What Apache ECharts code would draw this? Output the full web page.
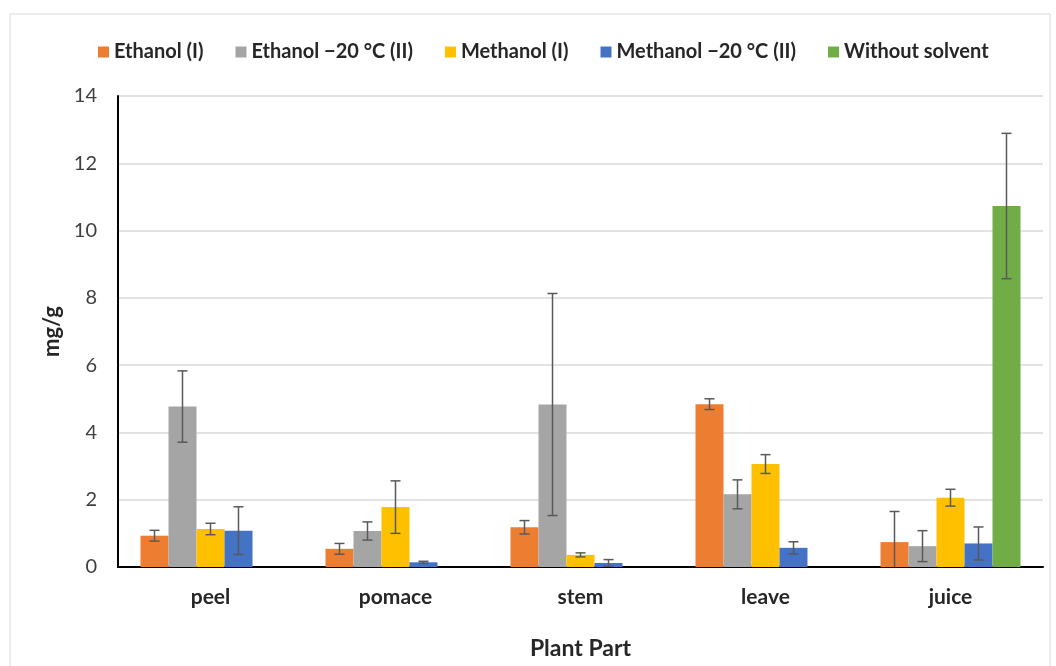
<!DOCTYPE html>
<html><head><meta charset="utf-8">
<script src="https://cdn.jsdelivr.net/npm/echarts@6/dist/echarts.min.js"></script>
<style>html,body{margin:0;padding:0;background:#fff}#c{width:1056px;height:666px}</style>
</head><body><div id="c"></div>
<script>
const categories = ['peel', 'pomace', 'stem', 'leave', 'juice'];
const seriesNames = ['Ethanol (I)', 'Ethanol \u221220 \u00B0C (II)', 'Methanol (I)', 'Methanol \u221220 \u00B0C (II)', 'Without solvent'];
const ethanolI = [0.93, 0.54, 1.18, 4.84, 0.74];
const ethanolII = [4.77, 1.07, 4.83, 2.16, 0.62];
const methanolI = [1.13, 1.78, 0.36, 3.06, 2.06];
const methanolII = [1.08, 0.14, 0.12, 0.57, 0.70];
const withoutSolvent = [null, null, null, null, 10.73];
const errEthanolI = [0.16, 0.16, 0.20, 0.16, 0.91];
const errEthanolII = [1.06, 0.27, 3.30, 0.43, 0.46];
const errMethanolI = [0.17, 0.78, 0.06, 0.28, 0.25];
const errMethanolII = [0.71, 0.03, 0.10, 0.18, 0.49];
const errWithout = [null, null, null, null, 2.16];
const yTicks = [0, 2, 4, 6, 8, 10, 12, 14];

const colors = ['#ED7D31', '#A5A5A5', '#FFC000', '#4472C4', '#70AD47'];
const values = [ethanolI, ethanolII, methanolI, methanolII, withoutSolvent];
const errs = [errEthanolI, errEthanolII, errMethanolI, errMethanolII, errWithout];
const BW = 28;
const font = 'Lato, "Open Sans", sans-serif';

const chart = echarts.init(document.getElementById('c'));
const series = [];
values.forEach((v, i) => {
  series.push({
    name: seriesNames[i], type: 'bar', data: v, barWidth: BW, barGap: '0%',
    itemStyle: { color: colors[i] }
  });
});
values.forEach((v, i) => {
  const data = v.map((val, k) => val == null ? null : [k, val, errs[i][k]]).filter(d => d);
  series.push({
    type: 'custom', name: seriesNames[i] + ' err', silent: true, z: 5,
    data: data,
    encode: { x: 0, y: 1 },
    renderItem: function (params, api) {
      const k = api.value(0), val = api.value(1), e = api.value(2);
      const lo = Math.max(0, val - e), hi = val + e;
      const pHi = api.coord([k, hi]);
      const pLo = api.coord([k, lo]);
      const x = pHi[0] + (i - 2) * BW;
      const cap = 5;
      const style = { stroke: '#595959', lineWidth: 1.5 };
      const children = [
        { type: 'line', shape: { x1: x, y1: pHi[1], x2: x, y2: pLo[1] }, style: style },
        { type: 'line', shape: { x1: x - cap, y1: pHi[1], x2: x + cap, y2: pHi[1] }, style: style }
      ];
      if (val - e >= 0) children.push({ type: 'line', shape: { x1: x - cap, y1: pLo[1], x2: x + cap, y2: pLo[1] }, style: style });
      return { type: 'group', children: children };
    }
  });
});

chart.setOption({
  animation: false,
  textStyle: { fontFamily: font },
  graphic: [{ type: 'rect', shape: { x: 10, y: 14, width: 1040, height: 660 }, style: { fill: 'none', stroke: '#d9d9d9', lineWidth: 1 }, z: -10 }],
  legend: {
    data: seriesNames, top: 37, left: 93, itemWidth: 11, itemHeight: 11, itemGap: 32,
    icon: 'rect',
    textStyle: { fontFamily: font, fontSize: 20, fontWeight: 'bold', color: '#262626' }
  },
  grid: { left: 118, right: 13, top: 96, bottom: 99 },
  xAxis: {
    type: 'category', data: categories,
    axisLine: { lineStyle: { color: '#000', width: 2 } },
    axisTick: { show: false },
    axisLabel: { fontFamily: font, fontSize: 21, fontWeight: 'bold', color: '#262626', margin: 20 },
    name: 'Plant Part', nameLocation: 'middle', nameGap: 70,
    nameTextStyle: { fontFamily: font, fontSize: 23, fontWeight: 'bold', color: '#262626' }
  },
  yAxis: {
    type: 'value', min: 0, max: 14, interval: 2,
    axisLine: { show: true, lineStyle: { color: '#000', width: 2 } },
    axisTick: { show: false },
    axisLabel: { fontFamily: font, fontSize: 20, color: '#404040', margin: 21 },
    splitLine: { lineStyle: { color: '#d9d9d9', width: 1.5 } },
    name: 'mg/g', nameLocation: 'middle', nameGap: 50,
    nameTextStyle: { fontFamily: font, fontSize: 22, fontWeight: 'bold', color: '#262626' }
  },
  series: series
});
</script></body></html>
